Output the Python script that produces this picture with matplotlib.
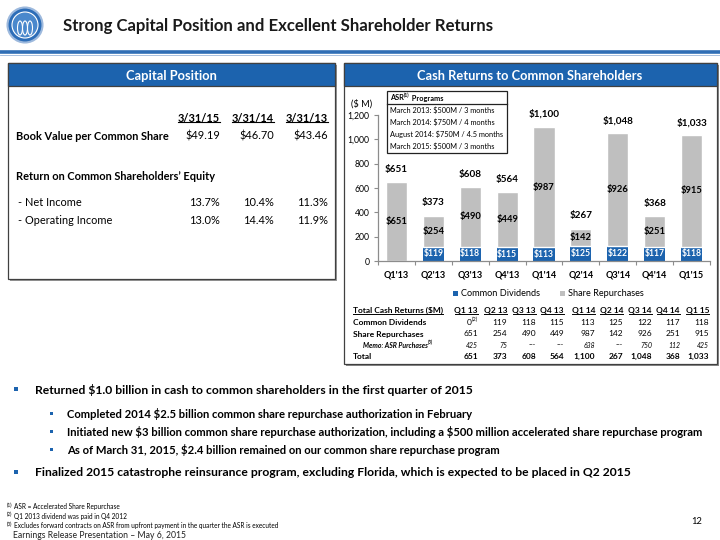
import matplotlib
matplotlib.use('Agg')
import matplotlib.pyplot as plt
from matplotlib.patches import Rectangle, Ellipse
from matplotlib.lines import Line2D
import numpy as np

plt.rcParams['font.family'] = ['Lato', 'DejaVu Sans']

# ---------------- data ----------------
quarters = ["Q1'13", "Q2'13", "Q3'13", "Q4'13", "Q1'14", "Q2'14", "Q3'14", "Q4'14", "Q1'15"]
table_cols = ["Q1 13", "Q2 13", "Q3 13", "Q4 13", "Q1 14", "Q2 14", "Q3 14", "Q4 14", "Q1 15"]
dividends = [0, 119, 118, 115, 113, 125, 122, 117, 118]
repurchases = [651, 254, 490, 449, 987, 142, 926, 251, 915]
asr_purchases = ["425", "75", "---", "---", "638", "---", "750", "112", "425"]
totals = [651, 373, 608, 564, 1100, 267, 1048, 368, 1033]
yticks = [0, 200, 400, 600, 800, 1000, 1200]

cap_dates = ["3/31/15", "3/31/14", "3/31/13"]
book_value = ["$49.19", "$46.70", "$43.46"]
roe_net = ["13.7%", "10.4%", "11.3%"]
roe_oper = ["13.0%", "14.4%", "11.9%"]

asr_programs = ["March 2013: $500M / 3 months",
                "March 2014: $750M / 4 months",
                "August 2014: $750M / 4.5 months",
                "March 2015: $500M / 3 months"]

# ---------------- setup ----------------
W, H = 720, 540
fig = plt.figure(figsize=(7.2, 5.4), dpi=100)
fig.patch.set_facecolor('white')
renderer = fig.canvas.get_renderer()

BLUE = '#1C63AE'
GRAY = '#BFBFBF'


def fx(x):
    return x / W


def fy(y):
    return 1 - y / H


def txt(x, y, s, size, **kw):
    kw.setdefault('va', 'center_baseline')
    return fig.text(fx(x), fy(y), s, fontsize=size, parse_math=False, **kw)


def width_px(s, size, weight='normal', style='normal'):
    t = fig.text(0, 0, s, fontsize=size, fontweight=weight, fontstyle=style,
                 parse_math=False)
    w = t.get_window_extent(renderer).width
    t.remove()
    return w


def fit(s, target, weight='normal', style='normal'):
    return 10 * target / width_px(s, 10, weight, style)


def underline(t, y, size, lw=0.7, color='black'):
    bb = t.get_window_extent(renderer)
    yy = fy(y + size * 1.389 * 0.42)
    fig.add_artist(Line2D([bb.x0 / W, bb.x1 / W], [yy, yy], lw=lw, color=color,
                          transform=fig.transFigure))


def rect(x0, y0, x1, y1, **kw):
    r = Rectangle((fx(x0), fy(y1)), (x1 - x0) / W, (y1 - y0) / H,
                  transform=fig.transFigure, **kw)
    fig.add_artist(r)
    return r


def sup_text(x, y, base, sup, size, tail="", **kw):
    txt(x, y, base, size, **kw)
    w0 = width_px(base, size, kw.get('fontweight', 'normal'), kw.get('fontstyle', 'normal'))
    ssz = size * 0.68
    txt(x + w0 + 0.3, y - size * 0.45, sup, ssz, **kw)
    if tail:
        w1 = width_px(sup, ssz, kw.get('fontweight', 'normal'), kw.get('fontstyle', 'normal'))
        txt(x + w0 + w1 + 0.6, y, tail, size, **kw)


# ---------------- header ----------------
fig.add_artist(Ellipse((fx(25), fy(25)), 35 / W, 35 / H, transform=fig.transFigure,
                       facecolor='#2C6DB8', edgecolor='#9DB9DD', lw=1.5))
fig.add_artist(Ellipse((fx(25), fy(25)), 26 / W, 26 / H, transform=fig.transFigure,
                       facecolor='#4A88CC', edgecolor='white', lw=0.8))
for dx in (-5, 0, 5):
    fig.add_artist(Ellipse((fx(25 + dx), fy(28)), 5 / W, 14 / H, transform=fig.transFigure,
                           facecolor='none', edgecolor='white', lw=0.8))

title = "Strong Capital Position and Excellent Shareholder Returns"
txt(63, 25, title, fit(title, 434, 'bold'), fontweight='bold', color='#1a1a1a')
fig.add_artist(Line2D([0, 1], [fy(52), fy(52)], lw=2.6, color='#2F6EB5',
                      transform=fig.transFigure))
fig.add_artist(Line2D([0, 1], [fy(54.5), fy(54.5)], lw=0.6, color='#9BB7DB',
                      transform=fig.transFigure))

# ---------------- left panel ----------------
rect(9.5, 64.5, 336.5, 280.5, facecolor='#9a9a9a', edgecolor='none')
rect(8, 63, 335, 279, facecolor='white', edgecolor='#404040', lw=0.9)
rect(8, 63, 335, 86, facecolor=BLUE, edgecolor='#404040', lw=0.9)
hs = fit("Cash Returns to Common Shareholders", 226, 'bold')
txt(171, 75, "Capital Position", hs, fontweight='bold', color='white', ha='center')

bsz = fit("Book Value per Common Share", 153, 'bold')
col_r = [220, 274, 328]
for xr, d in zip(col_r, cap_dates):
    t = txt(xr, 117, d, bsz, fontweight='bold', ha='right')
    underline(t, 117, bsz, lw=0.8)
txt(16, 135, "Book Value per Common Share", bsz, fontweight='bold')
for xr, v in zip(col_r, book_value):
    txt(xr, 135, v, bsz, ha='right')
txt(16, 175, "Return on Common Shareholders\u2019 Equity", bsz, fontweight='bold')
txt(18, 201, "- Net Income", bsz)
txt(18, 219, "- Operating Income", bsz)
for xr, a, b in zip(col_r, roe_net, roe_oper):
    txt(xr, 201, a, bsz, ha='right')
    txt(xr, 219, b, bsz, ha='right')

# ---------------- right panel ----------------
rect(345.5, 64.5, 718.5, 366, facecolor='#8a8a8a', edgecolor='none')
rect(344, 63, 717, 364, facecolor='white', edgecolor='#404040', lw=0.9)
rect(344, 63, 717, 86, facecolor=BLUE, edgecolor='#404040', lw=0.9)
txt(530, 75, "Cash Returns to Common Shareholders", hs, fontweight='bold',
    color='white', ha='center')

# chart axes
ax = fig.add_axes([378 / W, 1 - 261 / H, 332 / W, 146 / H])
ax.set_zorder(4)
x = np.arange(len(quarters))
bw = 0.57
ax.bar(x, dividends, width=bw, color=BLUE, linewidth=0, zorder=2)
ax.bar(x, repurchases, width=bw, bottom=dividends, color=GRAY,
       edgecolor='white', linewidth=1.0, zorder=2)
ax.set_xlim(-0.5, len(quarters) - 0.5)
ax.set_ylim(0, 1200)
ax.set_yticks(yticks)
ax.set_yticklabels([f"{v:,}" for v in yticks], fontsize=fit("1,200", 22))
ax.set_xticks(x)
ax.set_xticklabels(quarters, fontweight='bold', fontsize=fit("Q1'13", 25, 'bold'))
ax.set_xticks(np.arange(-0.5, len(quarters), 1.0), minor=True)
ax.tick_params(axis='x', which='major', length=0, pad=7)
ax.tick_params(axis='x', which='minor', length=3, color='#8c8c8c', width=0.8)
ax.tick_params(axis='y', length=3, color='#8c8c8c', width=0.8, pad=3)
for s in ('top', 'right'):
    ax.spines[s].set_visible(False)
for s in ('left', 'bottom'):
    ax.spines[s].set_color('#8c8c8c')
    ax.spines[s].set_linewidth(0.9)
ax.set_facecolor('none')

lsz = fit("$1,100", 31, 'bold')
isz = lsz * 0.95
dsz = fit("$119", 20, 'bold')
for i in x:
    d, r, t = dividends[i], repurchases[i], totals[i]
    if d > 0:
        ax.text(i, d / 2, f"${d}", ha='center', va='center', color='white',
                fontsize=dsz, fontweight='bold', zorder=3, parse_math=False)
    ax.text(i, d + r / 2, f"${r}", ha='center', va='center', color='black',
            fontsize=isz, fontweight='bold', zorder=3, parse_math=False)
    ax.text(i, t + 105, f"${t:,}", ha='center', va='center', color='black',
            fontsize=lsz, fontweight='bold', zorder=3, parse_math=False)

txt(351, 103, "($ M)", fit("($ M)", 21))

# ASR box
rect(387, 91, 507, 153, facecolor='white', edgecolor='#222222', lw=0.9, zorder=5)
fig.add_artist(Line2D([fx(387), fx(507)], [fy(103.5), fy(103.5)], lw=0.9,
                      color='#222222', transform=fig.transFigure, zorder=6))
asz = fit("August 2014: $750M / 4.5 months", 114)
sup_text(390, 97.5, "ASR", "(1)", asz, tail=" Programs", fontweight='bold', zorder=6)
for k, s in enumerate(asr_programs):
    txt(390, 110 + 12 * k, s, asz, zorder=6)

# legend
gsz = fit("Common Dividends", 79)
rect(453, 290.5, 458, 295.5, facecolor=BLUE, edgecolor='none')
txt(461, 293, "Common Dividends", gsz)
rect(560, 290.5, 565, 295.5, facecolor=GRAY, edgecolor='none')
txt(568, 293, "Share Repurchases", gsz)

# data table
tsz = fit("Total Cash Returns ($M)", 90, 'bold')
col_x = [478, 507, 536, 564, 595, 623, 652, 680, 709]
t = txt(353, 310, "Total Cash Returns ($M)", tsz, fontweight='bold')
underline(t, 310, tsz, lw=0.7)
for xr, c in zip(col_x, table_cols):
    t = txt(xr, 310, c, tsz, fontweight='bold', ha='right')
    underline(t, 310, tsz, lw=0.7)
txt(353, 322, "Common Dividends", tsz, fontweight='bold')
txt(353, 333.5, "Share Repurchases", tsz, fontweight='bold')
msz_memo = tsz * 0.82
sup_text(363, 344.5, "Memo: ASR Purchases", "(3)", msz_memo,
         fontweight='bold', fontstyle='italic')
txt(353, 356, "Total", tsz, fontweight='bold')
sup_w = width_px("(2)", tsz * 0.68)
for k, xr in enumerate(col_x):
    if dividends[k] == 0:
        txt(xr, 322 - tsz * 0.45, "(2)", tsz * 0.68, ha='right')
        txt(xr - sup_w - 0.3, 322, "0", tsz, ha='right')
    else:
        txt(xr, 322, f"{dividends[k]}", tsz, ha='right')
    txt(xr, 333.5, f"{repurchases[k]}", tsz, ha='right')
    txt(xr, 344.5, asr_purchases[k], msz_memo, ha='right', fontstyle='italic')
    txt(xr, 356, f"{totals[k]:,}", tsz, ha='right', fontweight='bold')

# ---------------- bullets ----------------
b1 = "Returned $1.0 billion in cash to common shareholders in the first quarter of 2015"
msz = fit(b1, 436, 'bold')
sub = ["Completed 2014 $2.5 billion common share repurchase authorization in February",
       "Initiated new $3 billion common share repurchase authorization, including a $500 million accelerated share repurchase program",
       "As of March 31, 2015, $2.4 billion remained on our common share repurchase program"]
ssz = fit(sub[1], 636, 'bold')
b2 = "Finalized 2015 catastrophe reinsurance program, excluding Florida, which is expected to be placed in Q2 2015"

rect(14, 387, 17.5, 390.5, facecolor=BLUE, edgecolor='none')
txt(35, 389, b1, msz, fontweight='bold')
for k, s in enumerate(sub):
    yy = 413 + 18 * k
    rect(50, yy - 1.5, 53, yy + 1.5, facecolor=BLUE, edgecolor='none')
    txt(67, yy, s, ssz, fontweight='bold')
rect(14, 470, 17.5, 473.5, facecolor=BLUE, edgecolor='none')
txt(35, 472, b2, msz, fontweight='bold')

# ---------------- footnotes ----------------
fn = ["ASR = Accelerated Share Repurchase",
      "Q1 2013 dividend was paid in Q4 2012",
      "Excludes forward contracts on ASR from upfront payment in the quarter the ASR is executed"]
fsz = fit(fn[2], 266)
for k, s in enumerate(fn):
    yy = 506 + 9.5 * k
    txt(7, yy - 1.5, f"({k + 1})", fsz * 0.72)
    txt(14, yy, s, fsz)
es = "Earnings Release Presentation \u2013 May 6, 2015"
txt(13, 534, es, fit(es, 173), color='#222222')
txt(702, 520, "12", fit("12", 11), ha='right')

fig.savefig('out.png', dpi=100)
